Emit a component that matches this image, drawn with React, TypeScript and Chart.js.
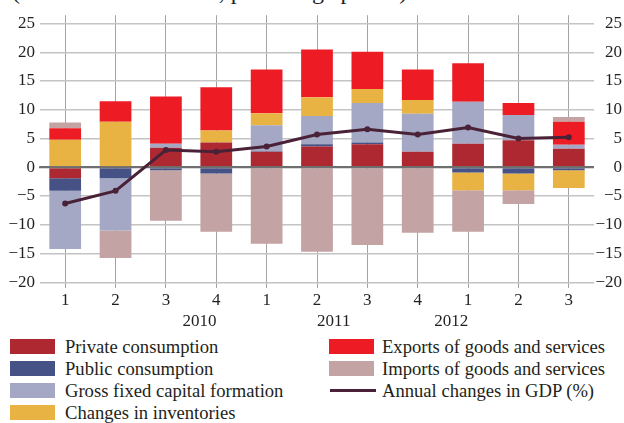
import React, { useEffect, useRef } from "react";
import { Chart, registerables } from "chart.js";

Chart.register(...registerables);

const quarters = ["1", "2", "3", "4", "1", "2", "3", "4", "1", "2", "3"];
const years = ["2010", "2011", "2012"];
const yearPositions = [1.5, 5.5, 9];
const yTicks = [-20, -15, -10, -5, 0, 5, 10, 15, 20, 25];

const privateConsumption = [-1.9, 0, 3.4, 4.3, 2.7, 3.6, 4.0, 2.7, 4.1, 4.7, 3.2];
const publicConsumption = [-2.2, -1.9, -0.5, -1.1, 0.1, 0.4, 0.3, 0, -0.9, -1.1, -0.5];
const grossFixedCapital = [-10.1, -9.1, 0.7, 0, 4.5, 4.9, 6.9, 6.6, 7.3, 4.4, 0.7];
const inventories = [4.8, 7.9, 0, 2.1, 2.1, 3.3, 2.4, 2.4, -3.1, -2.9, -3.1];
const exportsGS = [2.0, 3.6, 8.2, 7.5, 7.6, 8.3, 6.5, 5.3, 6.7, 2.1, 4.0];
const importsGS = [1.0, -4.8, -8.8, -10.1, -13.3, -14.7, -13.5, -11.4, -7.2, -2.4, 0.85];
const gdpChange = [-6.3, -4.1, 3.0, 2.7, 3.6, 5.7, 6.6, 5.7, 6.9, 5.0, 5.2];

const COLORS = {
  private: "#ad2830",
  public: "#465186",
  gfcf: "#a4a8c4",
  inventories: "#e8b342",
  exports: "#ed1c24",
  imports: "#c3a3a3",
  gdp: "#4a2238",
};

const FONT = "'Liberation Serif', 'Times New Roman', serif";
const TEXT = "#231f20";

const legendLeft = [
  { label: "Private consumption", color: COLORS.private },
  { label: "Public consumption", color: COLORS.public },
  { label: "Gross fixed capital formation", color: COLORS.gfcf },
  { label: "Changes in inventories", color: COLORS.inventories },
];
const legendRight = [
  { label: "Exports of goods and services", color: COLORS.exports, line: false },
  { label: "Imports of goods and services", color: COLORS.imports, line: false },
  { label: "Annual changes in GDP (%)", color: COLORS.gdp, line: true },
];

const fmt = (v: number) => (v < 0 ? "\u2212" + Math.abs(v) : String(v));

const zeroLinePlugin = {
  id: "zeroLine",
  beforeDatasetDraw(chart: any, args: any) {
    if (args.index !== 6) return;
    const { ctx, chartArea, scales } = chart;
    const y = scales.y.getPixelForValue(0);
    ctx.save();
    ctx.strokeStyle = "#6f6f6f";
    ctx.lineWidth = 2;
    ctx.beginPath();
    ctx.moveTo(chartArea.left - 1, y);
    ctx.lineTo(chartArea.right, y);
    ctx.stroke();
    ctx.restore();
  },
};

export default function App() {
  const canvasRef = useRef<HTMLCanvasElement | null>(null);

  useEffect(() => {
    if (!canvasRef.current) return;
    const bar = (label: string, data: number[], color: string) => ({
      type: "bar" as const,
      label,
      data,
      backgroundColor: color,
      borderWidth: 0,
      stack: "s",
      order: 1,
      xAxisID: "x",
      yAxisID: "y",
      categoryPercentage: 1,
      barPercentage: 0.63,
    });
    const yTickFn = (scale: any) => {
      scale.ticks = yTicks.map((v) => ({ value: v }));
    };
    const chart = new Chart(canvasRef.current, {
      type: "bar",
      data: {
        labels: quarters,
        datasets: [
          bar("Private consumption", privateConsumption, COLORS.private),
          bar("Public consumption", publicConsumption, COLORS.public),
          bar("Gross fixed capital formation", grossFixedCapital, COLORS.gfcf),
          bar("Changes in inventories", inventories, COLORS.inventories),
          bar("Exports of goods and services", exportsGS, COLORS.exports),
          bar("Imports of goods and services", importsGS, COLORS.imports),
          {
            type: "line" as const,
            label: "Annual changes in GDP (%)",
            data: gdpChange,
            borderColor: COLORS.gdp,
            backgroundColor: COLORS.gdp,
            borderWidth: 3,
            pointRadius: 3,
            pointBackgroundColor: COLORS.gdp,
            pointBorderWidth: 0,
            tension: 0,
            order: 0,
            xAxisID: "x",
            yAxisID: "y",
          } as any,
        ],
      },
      options: {
        responsive: false,
        animation: false,
        devicePixelRatio: 1,
        layout: { padding: { top: 14, right: 2, left: 0, bottom: 0 } },
        plugins: { legend: { display: false }, tooltip: { enabled: false }, title: { display: false } },
        scales: {
          x: {
            type: "category",
            position: "bottom",
            weight: 0,
            offset: true,
            stacked: true,
            grid: { offset: false, color: "#a3a3a3", lineWidth: 1, drawTicks: false },
            border: { display: false },
            ticks: { font: { family: FONT, size: 17 }, color: TEXT, padding: 2, maxRotation: 0, autoSkip: false },
            afterFit: (s: any) => { s.height = 22; },
          },
          x2: {
            type: "linear",
            position: "bottom",
            weight: 1,
            min: -0.5,
            max: 10.5,
            grid: { display: false, drawTicks: false },
            border: { display: false },
            afterBuildTicks: (s: any) => { s.ticks = yearPositions.map((v) => ({ value: v })); },
            ticks: {
              font: { family: FONT, size: 17 },
              color: TEXT,
              padding: 1,
              autoSkip: false,
              maxRotation: 0,
              callback: (v: any) => years[yearPositions.indexOf(Number(v))] ?? "",
            },
            afterFit: (s: any) => { s.height = 22; },
          },
          y: {
            type: "linear",
            position: "left",
            stacked: true,
            min: -21,
            max: 26.45,
            afterBuildTicks: yTickFn,
            grid: {
              drawTicks: false,
              color: (c: any) => (c.tick && c.tick.value === 0 ? "#6f6f6f" : "#c4c4c4"),
              lineWidth: (c: any) => (c.tick && c.tick.value === 0 ? 2 : 1.5),
            },
            border: { display: false },
            ticks: { font: { family: FONT, size: 17 }, color: TEXT, padding: 5, callback: (v: any) => fmt(Number(v)) },
            afterFit: (s: any) => { s.width = 40; },
          },
          y2: {
            type: "linear",
            position: "right",
            min: -21,
            max: 26.45,
            afterBuildTicks: yTickFn,
            grid: { display: false, drawTicks: false },
            border: { display: false },
            ticks: { font: { family: FONT, size: 17 }, color: TEXT, padding: 4, crossAlign: "far", callback: (v: any) => fmt(Number(v)) },
            afterFit: (s: any) => { s.width = 28; },
          },
        },
      } as any,
      plugins: [zeroLinePlugin],
    });
    return () => chart.destroy();
  }, []);

  const rowTop = (i: number) => 339 + 22 * i;

  return (
    <div style={{ position: "absolute", left: 0, top: 0, width: 624, height: 423, overflow: "hidden", background: "#fff", fontFamily: FONT, color: TEXT }}>
      <div style={{ position: "absolute", left: 12, top: -21, fontSize: 24, lineHeight: "24px", whiteSpace: "nowrap" }}>
        (Contribution to GDP, percentage points)
      </div>
      <canvas ref={canvasRef} width={624} height={332} style={{ position: "absolute", left: 0, top: 0, width: 624, height: 332 }} />
      {legendLeft.map((it, i) => (
        <React.Fragment key={it.label}>
          <div style={{ position: "absolute", left: 10, top: rowTop(i), width: 45, height: 15, background: it.color }} />
          <div style={{ position: "absolute", left: 65, top: rowTop(i) + 7.5 - 11, height: 22, lineHeight: "22px", fontSize: 18.6, whiteSpace: "nowrap" }}>{it.label}</div>
        </React.Fragment>
      ))}
      {legendRight.map((it, i) => (
        <React.Fragment key={it.label}>
          {it.line ? (
            <div style={{ position: "absolute", left: 330, top: rowTop(i) + 6, width: 46, height: 3, background: it.color }} />
          ) : (
            <div style={{ position: "absolute", left: 329, top: rowTop(i), width: 45, height: 15, background: it.color }} />
          )}
          <div style={{ position: "absolute", left: 382, top: rowTop(i) + 7.5 - 11, height: 22, lineHeight: "22px", fontSize: 18.6, whiteSpace: "nowrap" }}>{it.label}</div>
        </React.Fragment>
      ))}
    </div>
  );
}
